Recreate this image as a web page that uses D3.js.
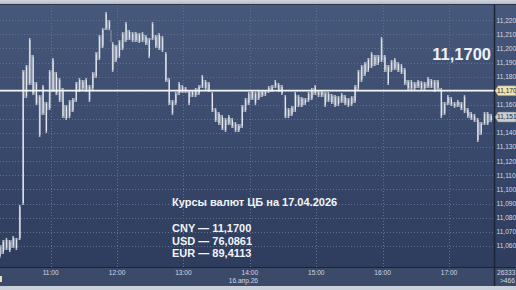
<!DOCTYPE html>
<html><head><meta charset="utf-8">
<script src="https://cdn.jsdelivr.net/npm/d3@7/dist/d3.min.js"></script>
<style>html,body{margin:0;padding:0;background:#c4ccd8;}svg{display:block;}</style>
</head><body>
<script>
// ---- data ----
const startTime = "10:14";      // first 3-minute bar
const barMinutes = 3;
const highs = [11.0606,11.0641,11.0656,11.0641,11.0670,11.0656,11.0890,11.1847,11.1882,11.2074,
11.1953,11.1762,11.1669,11.1740,11.1620,11.1847,11.1932,11.1833,11.1790,11.1719,
11.1599,11.1634,11.1648,11.1762,11.1790,11.1776,11.1790,11.1740,11.1833,11.1974,
11.2095,11.2144,11.2258,11.2201,11.2045,11.2024,11.2059,11.2116,11.2187,11.2130,
11.2116,11.2116,11.2109,11.2116,11.2095,11.2074,11.2187,11.2095,11.2109,11.2088,
11.1974,11.1790,11.1634,11.1691,11.1762,11.1740,11.1726,11.1705,11.1705,11.1719,
11.1740,11.1811,11.1776,11.1762,11.1691,11.1577,11.1549,11.1528,11.1506,11.1528,
11.1506,11.1478,11.1464,11.1599,11.1648,11.1691,11.1705,11.1691,11.1705,11.1705,
11.1705,11.1733,11.1740,11.1776,11.1755,11.1740,11.1669,11.1577,11.1591,11.1691,
11.1669,11.1655,11.1648,11.1691,11.1719,11.1740,11.1705,11.1705,11.1691,11.1691,
11.1677,11.1669,11.1662,11.1684,11.1669,11.1648,11.1662,11.1740,11.1847,11.1882,
11.1903,11.1932,11.1974,11.1953,11.1953,11.2081,11.1953,11.1882,11.1918,11.1932,
11.1903,11.1889,11.1861,11.1776,11.1776,11.1762,11.1776,11.1769,11.1762,11.1797,
11.1783,11.1776,11.1776,11.1719,11.1620,11.1669,11.1655,11.1620,11.1634,11.1620,
11.1669,11.1577,11.1549,11.1535,11.1506,11.1478,11.1549,11.1549,11.1535];
const lows = [11.0514,11.0542,11.0570,11.0556,11.0585,11.0570,11.0641,11.0890,11.1648,11.1740,
11.1669,11.1599,11.1372,11.1528,11.1400,11.1563,11.1691,11.1669,11.1620,11.1506,
11.1492,11.1506,11.1549,11.1620,11.1691,11.1705,11.1691,11.1620,11.1705,11.1790,
11.1918,11.2003,11.2130,11.2130,11.1833,11.1903,11.1932,11.1988,11.2045,11.2059,
11.2045,11.2045,11.2038,11.2045,11.2024,11.1932,11.2059,11.2003,11.1988,11.1974,
11.1762,11.1599,11.1528,11.1599,11.1669,11.1684,11.1684,11.1599,11.1655,11.1655,
11.1669,11.1719,11.1705,11.1691,11.1549,11.1478,11.1457,11.1421,11.1407,11.1457,
11.1435,11.1407,11.1407,11.1435,11.1549,11.1599,11.1634,11.1599,11.1634,11.1655,
11.1662,11.1684,11.1691,11.1719,11.1691,11.1669,11.1506,11.1506,11.1521,11.1549,
11.1584,11.1584,11.1599,11.1620,11.1634,11.1669,11.1655,11.1655,11.1584,11.1620,
11.1606,11.1584,11.1591,11.1613,11.1599,11.1584,11.1591,11.1613,11.1705,11.1762,
11.1804,11.1833,11.1861,11.1875,11.1882,11.1903,11.1833,11.1740,11.1833,11.1847,
11.1833,11.1818,11.1740,11.1705,11.1705,11.1705,11.1719,11.1705,11.1705,11.1719,
11.1719,11.1691,11.1705,11.1506,11.1528,11.1599,11.1591,11.1577,11.1584,11.1563,
11.1542,11.1506,11.1492,11.1478,11.1336,11.1386,11.1457,11.1457,11.1478];
const priceTicks = [11.06,11.07,11.08,11.09,11.10,11.11,11.12,11.13,11.14,11.15,11.16,11.17,11.18,11.19,11.20,11.21,11.22];
const hourTicks = ["11:00","12:00","13:00","14:00","15:00","16:00","17:00"];
const dateLabel = "16.апр.26";
const refPrice = 11.17;
const lastPrice = 11.1513;
const bigLabel = "11,1700";
const infoTitle = "Курсы валют ЦБ на 17.04.2026";
const infoLines = ["CNY — 11,1700","USD — 76,0861","EUR — 89,4113"];
const volLabels = ["26333",">466"];

// ---- helpers ----
const toMin = s => { const [h,m] = s.split(":").map(Number); return h*60+m; };
const fmt = v => d3.format(".4f")(v).replace(".", ",");

const W = 516, H = 290;
const plotL = 0, plotR = 494, plotT = 5, plotB = 267, axisB = 286;

const x = d3.scaleLinear().domain([660, 1020]).range([50.7, 449]);
const y = d3.scaleLinear().domain([11.06, 11.22]).range([245.8, 20.2]);

const svg = d3.select("body").append("svg").attr("width", W).attr("height", H)
  .style("font-family", "'Liberation Sans', Arial, sans-serif");

const defs = svg.append("defs");
const g1 = defs.append("linearGradient").attr("id","bg").attr("x1",0).attr("y1",0).attr("x2",0).attr("y2",1);
g1.append("stop").attr("offset","0%").attr("stop-color","#46587b");
g1.append("stop").attr("offset","100%").attr("stop-color","#2e3c5d");
const g2 = defs.append("linearGradient").attr("id","top").attr("x1",0).attr("y1",0).attr("x2",0).attr("y2",1);
g2.append("stop").attr("offset","0%").attr("stop-color","#d0d6e0");
g2.append("stop").attr("offset","100%").attr("stop-color","#a9b3c3");
defs.append("clipPath").attr("id","plotclip").append("rect")
  .attr("x",plotL).attr("y",plotT).attr("width",plotR-plotL).attr("height",plotB-plotT);
defs.append("clipPath").attr("id","axclip").append("rect")
  .attr("x",plotR).attr("y",plotT).attr("width",W-plotR).attr("height",axisB-plotT);

// backgrounds
svg.append("rect").attr("x",0).attr("y",0).attr("width",W).attr("height",plotT).attr("fill","url(#top)");
svg.append("rect").attr("x",0).attr("y",plotT).attr("width",W).attr("height",plotB-plotT).attr("fill","url(#bg)");
svg.append("rect").attr("x",0).attr("y",plotB).attr("width",W).attr("height",axisB-plotB).attr("fill","#3b4a69");
svg.append("rect").attr("x",0).attr("y",axisB).attr("width",W).attr("height",H-axisB).attr("fill","#c9d1dd");

// grid
const grid = svg.append("g").attr("clip-path","url(#plotclip)");
grid.selectAll("line.h").data(priceTicks).join("line")
  .attr("x1",plotL).attr("x2",plotR).attr("y1",d=>Math.round(y(d))+0.5).attr("y2",d=>Math.round(y(d))+0.5)
  .attr("stroke","#60708f").attr("stroke-width",1).attr("stroke-dasharray","1,2");
grid.selectAll("line.v").data(hourTicks).join("line")
  .attr("x1",d=>Math.round(x(toMin(d)))+0.5).attr("x2",d=>Math.round(x(toMin(d)))+0.5)
  .attr("y1",plotT).attr("y2",plotB)
  .attr("stroke","#60708f").attr("stroke-width",1).attr("stroke-dasharray","1,2");

// bars
const t0 = toMin(startTime);
const bars = highs.map((h,i)=>({t: t0 + i*barMinutes, h, l: lows[i]}));
const step = x(t0 + barMinutes) - x(t0);
const bg = svg.append("g").attr("clip-path","url(#plotclip)");
// connecting wicks between bars (thin grey) to give the dense minute-bar texture
bg.selectAll("line.j").data(bars.slice(1)).join("line")
  .attr("x1",d=>x(d.t) - step/2).attr("x2",d=>x(d.t) - step/2)
  .attr("y1",(d,i)=>y(Math.min(d.h, bars[i].h))).attr("y2",(d,i)=>y(Math.max(d.l, bars[i].l)))
  .attr("stroke","#8f99ab").attr("stroke-width",1);
bg.selectAll("line.b").data(bars).join("line")
  .attr("x1",d=>x(d.t)).attr("x2",d=>x(d.t))
  .attr("y1",d=>y(d.h)).attr("y2",d=>Math.max(y(d.l), y(d.h)+1))
  .attr("stroke","#b9c0cc").attr("stroke-width",1.6);
bg.selectAll("line.c").data(bars).join("line")
  .attr("x1",d=>x(d.t)+0.3).attr("x2",d=>x(d.t)+0.3)
  .attr("y1",d=>y(d.h)+2).attr("y2",d=>Math.max(y(d.l)-2, y(d.h)+2))
  .attr("stroke","#f3f4f7").attr("stroke-width",0.8);

// reference line
svg.append("line").attr("x1",0).attr("x2",plotR+2).attr("y1",y(refPrice)).attr("y2",y(refPrice))
  .attr("stroke","#f4f5f8").attr("stroke-width",1.8);

// dividers
svg.append("line").attr("x1",plotR+0.5).attr("x2",plotR+0.5).attr("y1",plotT).attr("y2",axisB)
  .attr("stroke","#1b2435").attr("stroke-width",1.5);
svg.append("line").attr("x1",0).attr("x2",W).attr("y1",plotB+0.5).attr("y2",plotB+0.5)
  .attr("stroke","#1b2435").attr("stroke-width",1.2);
svg.append("line").attr("x1",0).attr("x2",W).attr("y1",plotT-0.5).attr("y2",plotT-0.5)
  .attr("stroke","#2a3549").attr("stroke-width",1);

// right axis labels
const ax = svg.append("g").attr("clip-path","url(#axclip)");
ax.selectAll("text.p").data(priceTicks.filter(d=>d!==refPrice && Math.abs(d-lastPrice)>0.005)).join("text")
  .attr("x",plotR+2.5).attr("y",d=>y(d)).attr("dy","0.35em")
  .attr("fill","#d3d9e3").attr("font-size","6.6px").text(d=>fmt(d));

function marker(v, fill){
  const yy = y(v);
  ax.append("path").attr("d",`M${plotR+1},${yy} L${plotR+4},${yy-5} L${W},${yy-5} L${W},${yy+5} L${plotR+4},${yy+5} Z`)
    .attr("fill",fill).attr("stroke","#7a7a6a").attr("stroke-width",0.5);
  ax.append("text").attr("x",plotR+3).attr("y",yy).attr("dy","0.35em")
    .attr("fill","#2a2a2a").attr("font-size","6.6px").text(fmt(v));
}
marker(refPrice, "#ece3b4");
marker(lastPrice, "#c8ced8");

// bottom axis labels
svg.append("g").selectAll("text").data(hourTicks).join("text")
  .attr("x",d=>x(toMin(d))).attr("y",274.5).attr("text-anchor","middle")
  .attr("fill","#d3d9e3").attr("font-size","6.6px").text(d=>d);
svg.append("text").attr("x",258).attr("y",283).attr("text-anchor","end")
  .attr("fill","#d3d9e3").attr("font-size","6.6px").text(dateLabel);
svg.append("rect").attr("x",0).attr("y",276).attr("width",2).attr("height",6).attr("fill","#e8e0b0");
ax.append("text").attr("x",plotR+3).attr("y",274.5).attr("fill","#d3d9e3").attr("font-size","6.6px").text(volLabels[0]);
ax.append("text").attr("x",plotR+6).attr("y",283).attr("fill","#d3d9e3").attr("font-size","6.6px").text(volLabels[1]);

// big label
svg.append("text").attr("x",491).attr("y",60).attr("text-anchor","end")
  .attr("fill","#eef1f6").attr("font-size","16.5px").attr("font-weight","bold").text(bigLabel);

// info block
svg.append("text").attr("x",172).attr("y",206).attr("fill","#f2f4f8")
  .attr("font-size","11px").attr("font-weight","bold").text(infoTitle);
svg.append("g").selectAll("text").data(infoLines).join("text")
  .attr("x",172).attr("y",(d,i)=>232+i*12.5).attr("fill","#f2f4f8")
  .attr("font-size","11px").attr("font-weight","bold").text(d=>d);
</script>
</body></html>
